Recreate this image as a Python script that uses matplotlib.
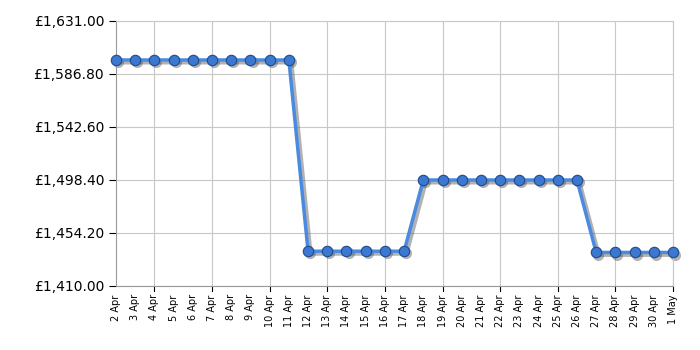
import numpy as np
import matplotlib
matplotlib.use("Agg")
import matplotlib.pyplot as plt
from matplotlib.transforms import ScaledTranslation
from matplotlib.ticker import FuncFormatter


DAY_LABELS = [f"{d} Apr" for d in range(2, 31)] + ["1 May"]
PRICES = [
    1598.5, 1598.5, 1598.5, 1598.5, 1598.5, 1598.5, 1598.5, 1598.5, 1598.5, 1598.5,
    1439.0, 1439.0, 1439.0, 1439.0, 1439.0, 1439.0,
    1498.4, 1498.4, 1498.4, 1498.4, 1498.4, 1498.4, 1498.4, 1498.4, 1498.4,
    1438.0, 1438.0, 1438.0, 1438.0, 1438.0,
]
Y_TICKS = [1410.00, 1454.20, 1498.40, 1542.60, 1586.80, 1631.00]


def main() -> None:
    x = np.arange(len(DAY_LABELS))

    fig = plt.figure(figsize=(7, 3.5), dpi=100)
    ax = fig.add_axes([116 / 700, 1 - 286 / 350, (673 - 116) / 700, (286 - 21) / 350])

    # soft drop shadow, drawn as an offset copy
    shift = ax.transData + ScaledTranslation(1.5 / 72, -1.5 / 72, fig.dpi_scale_trans)
    ax.plot(x, PRICES, color="#555555", alpha=0.45, linewidth=3.5, marker="o",
            markersize=8, markeredgewidth=0, transform=shift, zorder=2, clip_on=False)

    ax.plot(x, PRICES, color="#4a8ae0", linewidth=2.5, zorder=3, clip_on=False)
    ax.plot(x, PRICES, linestyle="none", marker="o", markersize=7.5,
            markerfacecolor="#3b78d2", markeredgecolor="#1f4a88", markeredgewidth=0.8,
            zorder=4, clip_on=False)

    ax.set_xlim(x[0], x[-1])
    ax.set_ylim(Y_TICKS[0], Y_TICKS[-1])
    ax.set_yticks(Y_TICKS)
    ax.yaxis.set_major_formatter(FuncFormatter(lambda v, _: f"£{v:,.2f}"))

    ax.set_xticks(x)
    ax.set_xticklabels(DAY_LABELS, rotation=90, fontsize=7)
    ax.tick_params(axis="y", labelsize=10, length=5, color="black")
    ax.tick_params(axis="x", length=0, pad=6)

    # grid + tick marks only every third day
    for i in x[2::3]:
        ax.axvline(i, color="#c8c8c8", linewidth=0.8, zorder=1)
        ax.plot([i, i], [0, -0.02], transform=ax.get_xaxis_transform(),
                color="black", linewidth=0.8, clip_on=False)
    ax.grid(axis="y", color="#c8c8c8", linewidth=0.8, zorder=1)

    for side in ["top", "right"]:
        ax.spines[side].set_color("#c8c8c8")
    for side in ["left", "bottom"]:
        ax.spines[side].set_color("#999999")

    fig.savefig("out.png", dpi=100)
    plt.close(fig)


if __name__ == "__main__":
    main()
